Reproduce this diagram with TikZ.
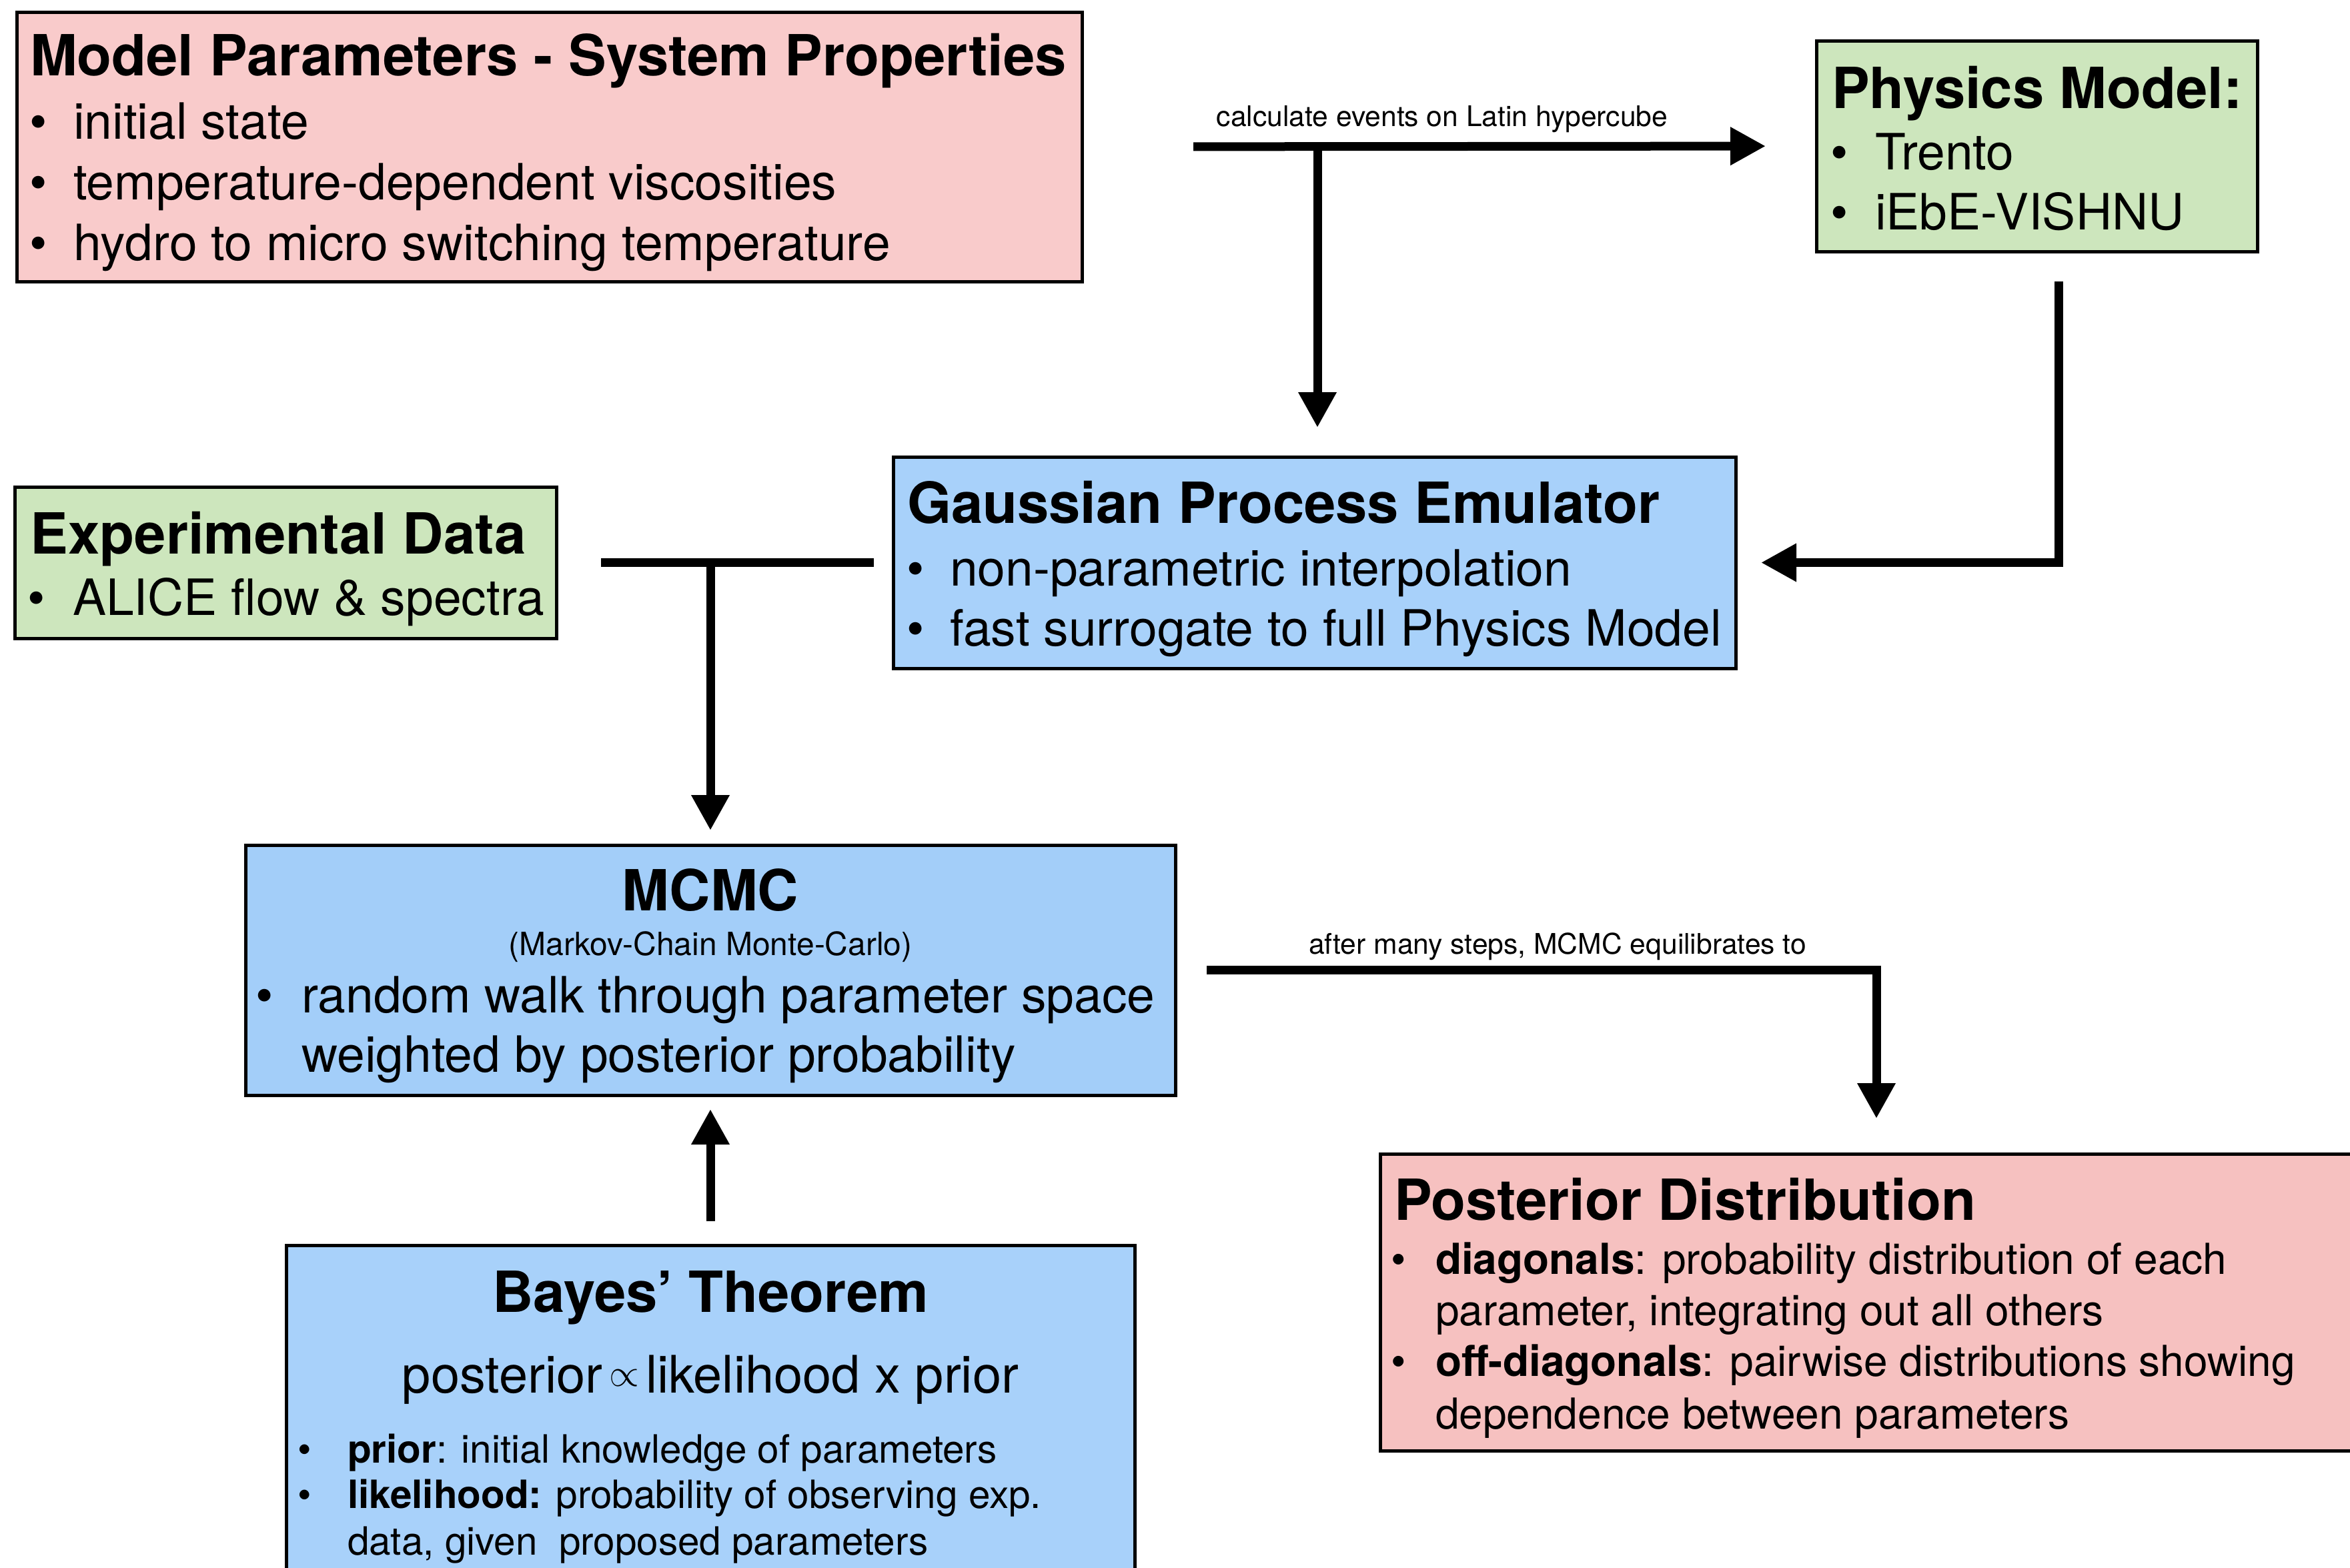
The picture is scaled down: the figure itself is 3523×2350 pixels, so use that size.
\documentclass[tikz,border=0pt]{standalone}
\usepackage{fontspec}
\setmainfont{TeX Gyre Heros}
\usetikzlibrary{arrows.meta}

\definecolor{pinkA}{HTML}{F9CBCB}
\definecolor{pinkB}{HTML}{F6C1C0}
\definecolor{greenA}{HTML}{CDE6BD}
\definecolor{blueA}{HTML}{A8D1FA}
\definecolor{blueB}{HTML}{A3CEF9}

\newcommand\hdfont{\fontsize{21.25pt}{25pt}\selectfont\bfseries}
\newcommand\bdfont{\fontsize{18.75pt}{22pt}\selectfont}
\newcommand\fmfont{\fontsize{19.4pt}{22pt}\selectfont}
\newcommand\pdfont{\fontsize{16pt}{19pt}\selectfont}
\newcommand\bydfont{\fontsize{14.6pt}{18pt}\selectfont}
\newcommand\lbfont{\fontsize{10.65pt}{12pt}\selectfont}
\newcommand\mkfont{\fontsize{12pt}{14pt}\selectfont}

\tikzset{
  box/.style={draw=black, line width=1.25pt, rectangle, inner sep=0pt, outer sep=0pt},
  txt/.style={inner sep=0pt, outer sep=0pt, anchor=base west},
  ctxt/.style={inner sep=0pt, outer sep=0pt, anchor=base},
  link/.style={line width=3.25pt, line join=miter},
  arr/.style={link, -{Triangle[length=13.25pt,width=13.5pt]}},
}

\begin{document}
\begin{tikzpicture}[x=0.25pt,y=-0.25pt]
\useasboundingbox (0,0) rectangle (3523,2350);
\clip (0,0) rectangle (3523,2350);

% boxes
\node[box, fill=pinkA, minimum width=399.25pt, minimum height=101pt] (mp) at (823.5,220) {};
\node[box, fill=greenA, minimum width=165.25pt, minimum height=79pt] (phys) at (3053.5,219) {};
\node[box, fill=greenA, minimum width=203pt, minimum height=56.75pt] (exp) at (428,843.5) {};
\node[box, fill=blueA, minimum width=315.75pt, minimum height=79.25pt] (emu) at (1970.5,843.5) {};
\node[box, fill=blueB, minimum width=348.5pt, minimum height=93.75pt] (mcmc) at (1065,1454.5) {};
\node[box, fill=pinkB, minimum width=382.75pt, minimum height=111.25pt] (post) at (2834.5,1952.5) {};
\node[box, fill=blueA, minimum width=318pt, minimum height=138.25pt] (bayes) at (1065,2143.5) {};

% model parameters
\node[txt, font=\hdfont] (mpT) at (45,113) {Model Parameters - System Properties};
\node[ctxt, font=\bdfont] (mpB1) at (58,208) {•};
\node[txt, font=\bdfont] (mpL1) at (110,208) {initial state};
\node[ctxt, font=\bdfont] (mpB2) at (58,299) {•};
\node[txt, font=\bdfont] (mpL2) at (110,299) {temperature-dependent viscosities};
\node[ctxt, font=\bdfont] (mpB3) at (58,390) {•};
\node[txt, font=\bdfont] (mpL3) at (110,390) {hydro to micro switching temperature};

% physics model
\node[txt, font=\hdfont] (phT) at (2746,162) {Physics Model:};
\node[ctxt, font=\bdfont] (phB1) at (2758,254) {•};
\node[txt, font=\bdfont] (phL1) at (2811,254) {Trento};
\node[ctxt, font=\bdfont] (phB2) at (2758,344) {•};
\node[txt, font=\bdfont] (phL2) at (2811,344) {iEbE-VISHNU};

% experimental data
\node[txt, font=\hdfont] (exT) at (46,830) {Experimental Data};
\node[ctxt, font=\bdfont] (exB1) at (55,922) {•};
\node[txt, font=\bdfont] (exL1) at (109,922) {ALICE flow \& spectra};

% emulator
\node[txt, font=\hdfont] (emT) at (1360,784) {Gaussian Process Emulator};
\node[ctxt, font=\bdfont] (emB1) at (1373,878) {•};
\node[txt, font=\bdfont] (emL1) at (1424,878) {non-parametric interpolation};
\node[ctxt, font=\bdfont] (emB2) at (1373,968) {•};
\node[txt, font=\bdfont] (emL2) at (1424,968) {fast surrogate to full Physics Model};

% MCMC
\node[ctxt, font=\hdfont] (mcT) at (1065,1365) {MCMC};
\node[ctxt, font=\mkfont] (mcS) at (1065,1432) {(Markov-Chain Monte-Carlo)};
\node[ctxt, font=\bdfont] (mcB1) at (397,1518) {•};
\node[txt, font=\bdfont] (mcL1) at (452,1518) {random walk through parameter space};
\node[txt, font=\bdfont] (mcL2) at (452,1607) {weighted by posterior probability};

% posterior distribution
\node[txt, font=\hdfont] (poT) at (2090,1829) {Posterior Distribution};
\node[ctxt, font=\pdfont] (poB1) at (2097,1910) {•};
\node[txt, font=\pdfont] (poL1) at (2152,1910) {\textbf{diagonals}: probability distribution of each};
\node[txt, font=\pdfont] (poL2) at (2152,1987) {parameter, integrating out all others};
\node[ctxt, font=\pdfont] (poB2) at (2097,2063) {•};
\node[txt, font=\pdfont] (poL3) at (2152,2063) {\textbf{off-diagonals}: pairwise distributions showing};
\node[txt, font=\pdfont] (poL4) at (2152,2142) {dependence between parameters};

% Bayes' theorem
\node[ctxt, font=\hdfont] (byT) at (1065,1967) {Bayes’ Theorem};
\node[ctxt, font=\fmfont] (byF) at (1065,2088) {posterior\hspace{2.5pt}\raisebox{2.5pt}{\fontsize{14pt}{14pt}\selectfont$\propto$}\hspace{2.5pt}likelihood x prior};
\node[ctxt, font=\bydfont] (byB1) at (457,2193) {•};
\node[txt, font=\bydfont] (byL1) at (521,2193) {\textbf{prior}: initial knowledge of parameters};
\node[ctxt, font=\bydfont] (byB2) at (457,2261) {•};
\node[txt, font=\bydfont] (byL2) at (521,2261) {\textbf{likelihood:} probability of observing exp.};
\node[txt, font=\bydfont] (byL3) at (521,2331) {data, given\ \ proposed parameters};

% connector labels
\node[ctxt, font=\lbfont] (lab1) at (2162,189) {calculate events on Latin hypercube};
\node[ctxt, font=\lbfont] (lab2) at (2335,1430) {after many steps, MCMC equilibrates to};

% connectors
\coordinate (j1) at (1975,219);
\coordinate (pk) at (3086,843.5);
\coordinate (mk) at (2813,1454.5);
\coordinate (j2) at (mcmc.north |- exp.east);

\draw[arr, shorten <=41.75pt, shorten >=19pt] (mp.east) -- (phys.west);
\draw[arr, shorten >=11pt] (j1) -- (j1 |- emu.north);
\draw[arr, shorten <=11.25pt, shorten >=9.5pt] (pk |- phys.south) -- (pk) -- (emu.east);
\draw[link, shorten <=16.75pt, shorten >=7.25pt] (exp.east) -- (emu.west);
\draw[arr, shorten >=5.5pt] (j2) -- (mcmc.north);
\draw[arr, shorten <=11.75pt, shorten >=13.25pt] (mcmc.east) -- (mk) -- (mk |- post.north);
\draw[arr, shorten <=9pt, shorten >=5.25pt] (bayes.north) -- (mcmc.south);
\end{tikzpicture}
\end{document}
